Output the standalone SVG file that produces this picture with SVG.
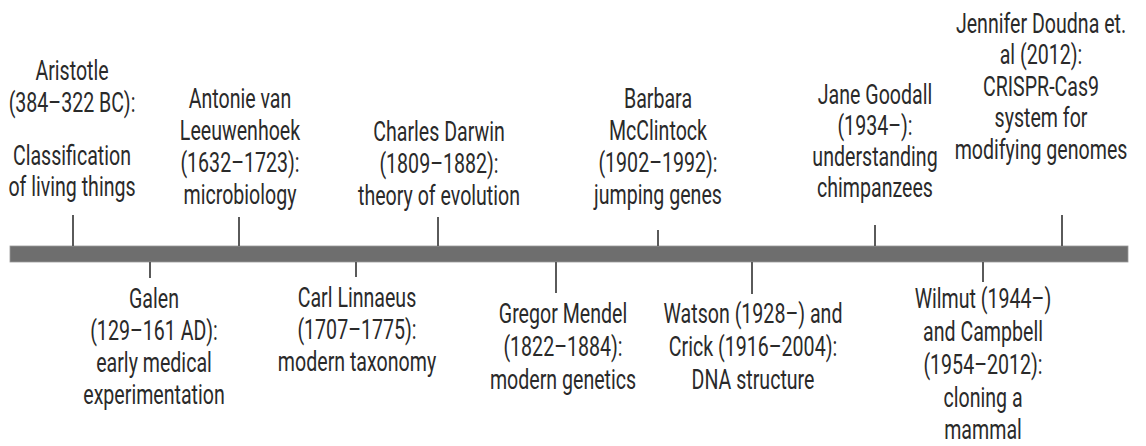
<svg xmlns="http://www.w3.org/2000/svg" width="1146" height="446" viewBox="0 0 1146 446">
<style>
text{font-family:Roboto,"Liberation Sans",sans-serif;font-size:28px;fill:#2a2a2a;text-anchor:middle}
.tick{stroke:#5a5a5a;stroke-width:2}
</style>
<rect width="1146" height="446" fill="#fff"/>
<rect id="timeline" x="10" y="246" width="1118" height="16" fill="#6e6e6e" stroke="#9a9a9a" stroke-width="0.8"/>
<g id="connectors">
<line class="tick" x1="73" y1="215" x2="73" y2="246"/>
<line class="tick" x1="239" y1="217" x2="239" y2="246"/>
<line class="tick" x1="438" y1="217" x2="438" y2="246"/>
<line class="tick" x1="658" y1="230" x2="658" y2="246"/>
<line class="tick" x1="875" y1="225" x2="875" y2="246"/>
<line class="tick" x1="1062" y1="215" x2="1062" y2="246"/>
<line class="tick" x1="150" y1="262" x2="150" y2="278"/>
<line class="tick" x1="356" y1="262" x2="356" y2="277"/>
<line class="tick" x1="556" y1="262" x2="556" y2="293"/>
<line class="tick" x1="752" y1="262" x2="752" y2="294"/>
<line class="tick" x1="983" y1="262" x2="983" y2="282"/>
</g>
<g id="aristotle" transform="translate(72,0) scale(0.7,1)">
<text x="0" y="80">Aristotle</text>
<text x="0" y="112">(384–322 BC):</text>
<text x="0" y="165">Classification</text>
<text x="0" y="196">of living things</text>
</g>
<g id="leeuwenhoek" transform="translate(240,0) scale(0.7,1)">
<text x="0" y="108">Antonie van</text>
<text x="0" y="140">Leeuwenhoek</text>
<text x="0" y="172">(1632–1723):</text>
<text x="0" y="204">microbiology</text>
</g>
<g id="darwin" transform="translate(439,0) scale(0.7,1)">
<text x="0" y="141">Charles Darwin</text>
<text x="0" y="173">(1809–1882):</text>
<text x="0" y="205">theory of evolution</text>
</g>
<g id="mcclintock" transform="translate(658,0) scale(0.7,1)">
<text x="0" y="108">Barbara</text>
<text x="0" y="140">McClintock</text>
<text x="0" y="172">(1902–1992):</text>
<text x="0" y="204">jumping genes</text>
</g>
<g id="goodall" transform="translate(875,0) scale(0.7,1)">
<text x="0" y="104">Jane Goodall</text>
<text x="0" y="135">(1934–):</text>
<text x="0" y="166">understanding</text>
<text x="0" y="197">chimpanzees</text>
</g>
<g id="doudna" transform="translate(1041,0) scale(0.7,1)">
<text x="0" y="33">Jennifer Doudna et.</text>
<text x="0" y="64">al (2012):</text>
<text x="0" y="96">CRISPR-Cas9</text>
<text x="0" y="127">system for</text>
<text x="0" y="159">modifying genomes</text>
</g>
<g id="galen" transform="translate(154,0) scale(0.7,1)">
<text x="0" y="308">Galen</text>
<text x="0" y="340">(129–161 AD):</text>
<text x="0" y="372">early medical</text>
<text x="0" y="404">experimentation</text>
</g>
<g id="linnaeus" transform="translate(357,0) scale(0.7,1)">
<text x="0" y="307">Carl Linnaeus</text>
<text x="0" y="339">(1707–1775):</text>
<text x="0" y="371">modern taxonomy</text>
</g>
<g id="mendel" transform="translate(563,0) scale(0.7,1)">
<text x="0" y="323">Gregor Mendel</text>
<text x="0" y="356">(1822–1884):</text>
<text x="0" y="389">modern genetics</text>
</g>
<g id="watson-crick" transform="translate(753,0) scale(0.7,1)">
<text x="0" y="323">Watson (1928–) and</text>
<text x="0" y="356">Crick (1916–2004):</text>
<text x="0" y="389">DNA structure</text>
</g>
<g id="wilmut-campbell" transform="translate(983,0) scale(0.7,1)">
<text x="0" y="308">Wilmut (1944–)</text>
<text x="0" y="341">and Campbell</text>
<text x="0" y="374">(1954–2012):</text>
<text x="0" y="407">cloning a</text>
<text x="0" y="439">mammal</text>
</g>
</svg>
